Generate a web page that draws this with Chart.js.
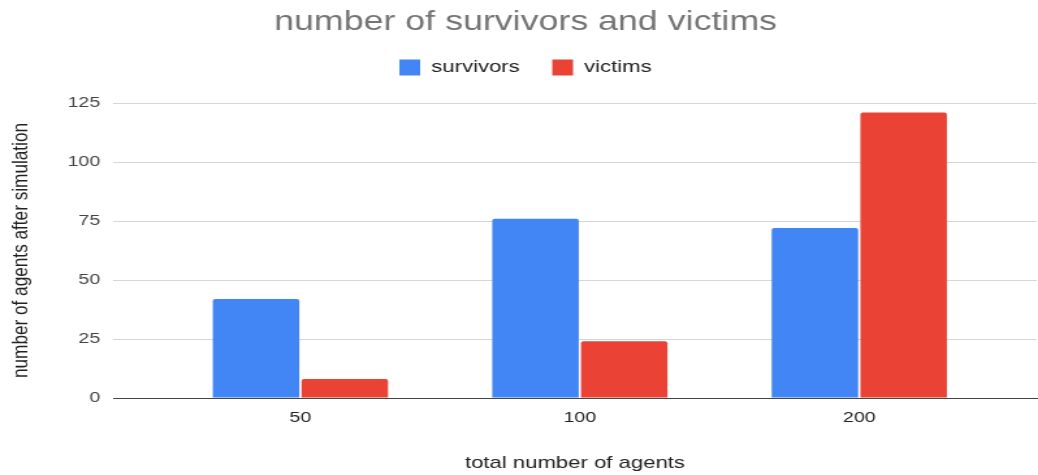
<!DOCTYPE html>
<html>
<head>
<meta charset="utf-8">
<script src="https://cdn.jsdelivr.net/npm/chart.js@4/dist/chart.umd.min.js"></script>
<style>
  html, body { margin: 0; padding: 0; background: #fff; overflow: hidden; }
  #frame { width: 1038px; height: 475px; overflow: hidden; }
  /* chart is laid out narrower and widened horizontally */
  #wrap { width: 798px; height: 475px; transform: scaleX(1.3008); transform-origin: 0 0; }
</style>
</head>
<body>
<div id="frame"><div id="wrap"><canvas id="agentsChart"></canvas></div></div>
<script>
const categories = ['50', '100', '200'];
const survivors = [42, 76, 72];
const victims = [8, 24, 121];
const yTicks = [0, 25, 50, 75, 100, 125];

const FONT = "'Liberation Sans', Arial, sans-serif";

function toPoints(values) {
    return values.map((v, i) => ({ x: i, y: v }));
}

// extra room between the legend and the plot
const legendGap = {
    id: 'legendGap',
    beforeInit(chart) {
        const fit = chart.legend.fit;
        chart.legend.fit = function () {
            fit.call(this);
            this.height += 17;
        };
    }
};

const ctx = document.getElementById('agentsChart').getContext('2d');
new Chart(ctx, {
    type: 'bar',
    data: {
        datasets: [{
            label: 'survivors',
            data: toPoints(survivors),
            backgroundColor: '#4285f4',
            borderRadius: 2,
            borderSkipped: 'bottom'
        }, {
            label: 'victims',
            data: toPoints(victims),
            backgroundColor: '#ea4335',
            borderRadius: 2,
            borderSkipped: 'bottom'
        }]
    },
    plugins: [legendGap],
    options: {
        responsive: true,
        maintainAspectRatio: false,
        animation: false,
        categoryPercentage: 0.635,
        barPercentage: 0.975,
        layout: { padding: { left: 11, right: 1, top: 0, bottom: 0 } },
        plugins: {
            title: {
                display: true,
                text: 'number of survivors and victims',
                color: '#757575',
                font: { family: FONT, size: 27.5, weight: 'normal' },
                padding: { top: 6, bottom: -5 }
            },
            legend: {
                position: 'top',
                labels: {
                    color: '#222',
                    font: { family: FONT, size: 17 },
                    boxWidth: 16,
                    boxHeight: 16,
                    padding: 25
                }
            },
            tooltip: { enabled: false }
        },
        scales: {
            x: {
                type: 'linear',
                min: -0.67,
                max: 2.635,
                offset: false,
                grid: { display: false, drawTicks: false, offset: false },
                border: { display: true, color: '#444', width: 1 },
                afterBuildTicks: scale => {
                    scale.ticks = categories.map((_, i) => ({ value: i }));
                },
                afterFit: scale => { scale.height = 77; },
                ticks: {
                    color: '#222',
                    font: { family: FONT, size: 15 },
                    padding: 11,
                    maxRotation: 0,
                    callback: v => categories[v]
                },
                title: {
                    display: true,
                    text: 'total number of agents',
                    color: '#222',
                    font: { family: FONT, size: 17 },
                    padding: { top: 0, bottom: 1 }
                }
            },
            y: {
                min: 0,
                max: 125,
                afterBuildTicks: scale => {
                    scale.ticks = yTicks.map(v => ({ value: v }));
                },
                afterFit: scale => { scale.width = 76; },
                grid: {
                    drawTicks: false,
                    color: c => c.tick && c.tick.value === 0 ? '#444' : '#d6d6d6'
                },
                border: { display: false },
                ticks: {
                    color: '#444',
                    font: { family: FONT, size: 15 },
                    padding: 10
                },
                title: {
                    display: true,
                    text: 'number of agents after simulation',
                    color: '#222',
                    font: { family: FONT, size: 17.2 },
                    padding: { top: -5, bottom: 0 }
                }
            }
        }
    }
});
</script>
</body>
</html>
